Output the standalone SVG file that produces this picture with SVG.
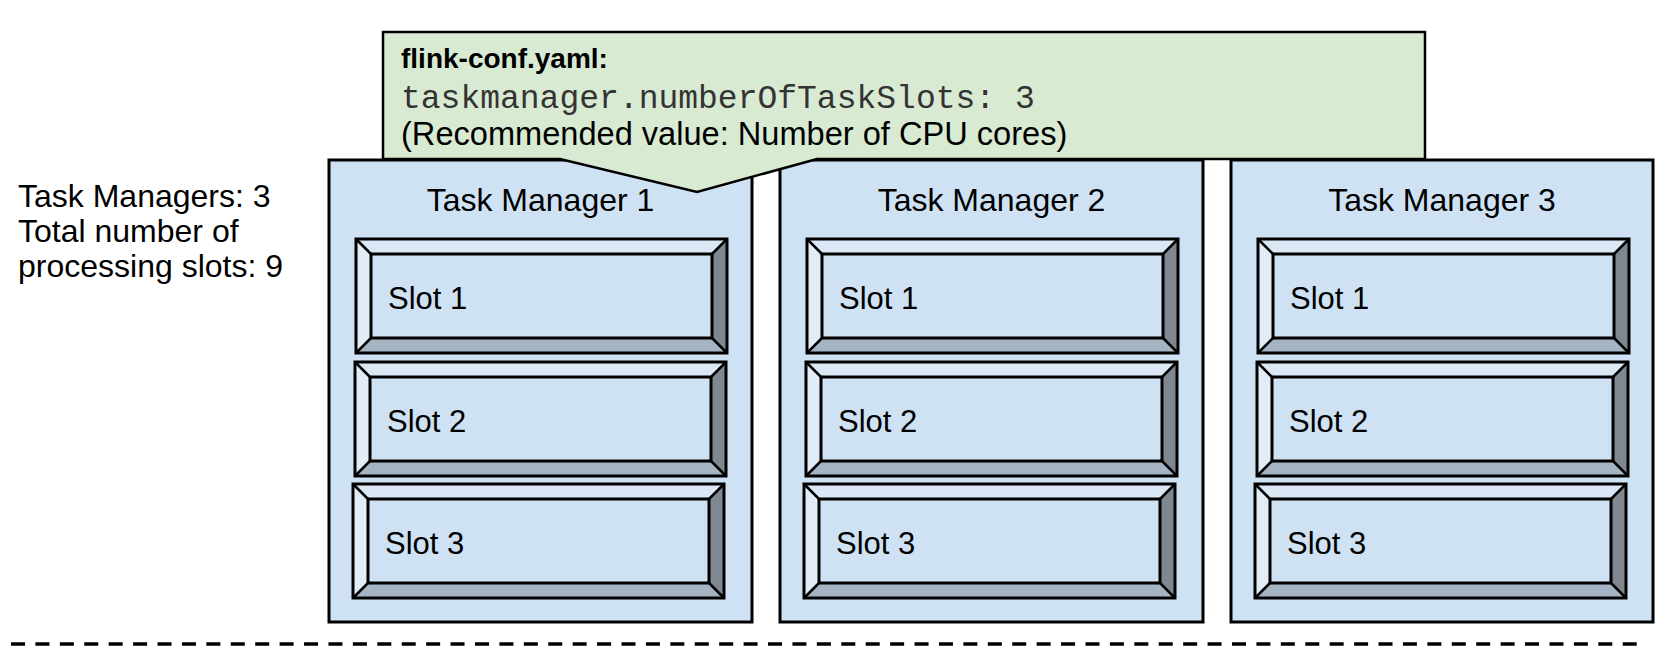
<svg xmlns="http://www.w3.org/2000/svg" xmlns:xlink="http://www.w3.org/1999/xlink" width="1672" height="654" viewBox="0 0 1672 654">
  <style>
    .tm { fill: #cfe2f3; stroke: #000; stroke-width: 3; }
    .callout { fill: #d9ead3; stroke: #000; stroke-width: 2.5; stroke-linejoin: miter; }
    .lbl { font-family: "Liberation Sans", Arial, sans-serif; font-size: 32px; fill: #000; }
    .note { font-family: "Liberation Sans", Arial, sans-serif; font-size: 32.6px; fill: #000; }
    .slotlbl { font-family: "Liberation Sans", Arial, sans-serif; font-size: 31px; fill: #000; }
    .title { font-family: "Liberation Sans", Arial, sans-serif; font-size: 28px; font-weight: bold; fill: #000; }
    .mono { font-family: "Liberation Mono", "Courier New", monospace; font-size: 33px; fill: #333; }
    .sep { fill: none; stroke: #000; stroke-width: 3.5; stroke-dasharray: 14 10.42; }
  </style>
  <defs>
    <g id="bevel">
      <rect x="0" y="0" width="371" height="114" fill="#cfe2f3"/>
      <polygon points="0,0 371,0 356,15 15,15" fill="#dbe7f4"/>
      <polygon points="371,0 371,114 356,99 356,15" fill="#7f8891"/>
      <polygon points="0,114 371,114 356,99 15,99" fill="#a4b4c2"/>
      <polygon points="0,0 15,15 15,99 0,114" fill="#e2ecf7"/>
      <rect x="15" y="15" width="341" height="84" fill="#cfe2f3" stroke="#000" stroke-width="3"/>
      <path d="M0,0 L15,15 M371,0 L356,15 M371,114 L356,99 M0,114 L15,99" stroke="#000" stroke-width="2.5"/>
      <rect x="0" y="0" width="371" height="114" fill="none" stroke="#000" stroke-width="3"/>
    </g>
  </defs>

  <rect x="0" y="0" width="1672" height="654" fill="#fff"/>

  <g id="summary">
    <text class="lbl" x="18" y="207">Task Managers: 3</text>
    <text class="lbl" x="18" y="242">Total number of</text>
    <text class="lbl" x="18" y="277">processing slots: 9</text>
  </g>

  <g id="tm1">
    <rect class="tm" x="329" y="160" width="423" height="462"/>
    <text class="lbl" x="540.5" y="211" text-anchor="middle">Task Manager 1</text>
    <g id="tm1-slot1"><use xlink:href="#bevel" x="356" y="239"/><text class="slotlbl" x="388" y="309">Slot 1</text></g>
    <g id="tm1-slot2"><use xlink:href="#bevel" x="355" y="362"/><text class="slotlbl" x="387" y="432">Slot 2</text></g>
    <g id="tm1-slot3"><use xlink:href="#bevel" x="353" y="484"/><text class="slotlbl" x="385" y="554">Slot 3</text></g>
  </g>

  <g id="tm2">
    <rect class="tm" x="780" y="160" width="423" height="462"/>
    <text class="lbl" x="991.5" y="211" text-anchor="middle">Task Manager 2</text>
    <g id="tm2-slot1"><use xlink:href="#bevel" x="807" y="239"/><text class="slotlbl" x="839" y="309">Slot 1</text></g>
    <g id="tm2-slot2"><use xlink:href="#bevel" x="806" y="362"/><text class="slotlbl" x="838" y="432">Slot 2</text></g>
    <g id="tm2-slot3"><use xlink:href="#bevel" x="804" y="484"/><text class="slotlbl" x="836" y="554">Slot 3</text></g>
  </g>

  <g id="tm3">
    <rect class="tm" x="1231" y="160" width="422" height="462"/>
    <text class="lbl" x="1442" y="211" text-anchor="middle">Task Manager 3</text>
    <g id="tm3-slot1"><use xlink:href="#bevel" x="1258" y="239"/><text class="slotlbl" x="1290" y="309">Slot 1</text></g>
    <g id="tm3-slot2"><use xlink:href="#bevel" x="1257" y="362"/><text class="slotlbl" x="1289" y="432">Slot 2</text></g>
    <g id="tm3-slot3"><use xlink:href="#bevel" x="1255" y="484"/><text class="slotlbl" x="1287" y="554">Slot 3</text></g>
  </g>

  <g id="config-callout">
    <polygon class="callout" points="383,32 1425,32 1425,159 817,159 697,192 560,159 383,159"/>
    <text class="title" x="401" y="68">flink-conf.yaml:</text>
    <text class="mono" x="401" y="108">taskmanager.numberOfTaskSlots: 3</text>
    <text class="note" x="401" y="145">(Recommended value: Number of CPU cores)</text>
  </g>

  <g id="connectors">
    <line class="sep" x1="11" y1="644" x2="1637" y2="644"/>
  </g>
</svg>
